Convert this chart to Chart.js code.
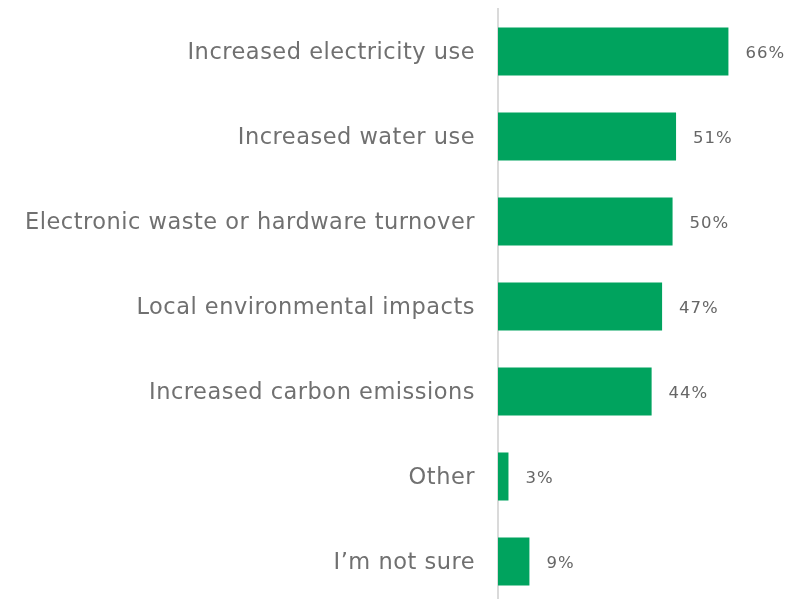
<!DOCTYPE html>
<html>
<head>
<meta charset="utf-8">
<script src="https://cdn.jsdelivr.net/npm/chart.js@4/dist/chart.umd.min.js"></script>
<style>
  html, body { margin: 0; padding: 0; background: #fff; overflow: hidden; }
  .chart-container { position: relative; width: 800px; height: 604px; }
</style>
</head>
<body>
<div class="chart-container"><canvas id="barChart"></canvas></div>
<script>
// Chart data
const categories = [
    'Increased electricity use',
    'Increased water use',
    'Electronic waste or hardware turnover',
    'Local environmental impacts',
    'Increased carbon emissions',
    'Other',
    'I\u2019m not sure'
];
const values = [66, 51, 50, 47, 44, 3, 9];

// Wider tracking to get closer to the original geometric font
const tracking = {
    id: 'tracking',
    beforeDraw(chart) { chart.ctx.letterSpacing = '0.5px'; }
};

// Draw the percentage next to each bar
const valueLabels = {
    id: 'valueLabels',
    afterDatasetsDraw(chart) {
        const ctx = chart.ctx;
        const meta = chart.getDatasetMeta(0);
        ctx.save();
        ctx.letterSpacing = '1px';
        ctx.font = '16.5px "DejaVu Sans"';
        ctx.fillStyle = '#666666';
        ctx.textAlign = 'left';
        ctx.textBaseline = 'middle';
        meta.data.forEach((bar, i) => {
            ctx.fillText(values[i] + '%', bar.x + 17, bar.y + 2);
        });
        ctx.restore();
    }
};

const ctx = document.getElementById('barChart').getContext('2d');
new Chart(ctx, {
    type: 'bar',
    data: {
        labels: categories,
        datasets: [{
            data: values,
            backgroundColor: '#00a35e',
            borderWidth: 0,
            barPercentage: 1,
            categoryPercentage: 0.565
        }]
    },
    options: {
        indexAxis: 'y',
        responsive: true,
        maintainAspectRatio: false,
        animation: false,
        layout: { padding: { top: 9, right: 0, bottom: 0, left: 0 } },
        plugins: {
            legend: { display: false },
            tooltip: { enabled: false }
        },
        scales: {
            x: {
                display: false,
                min: 0,
                max: 86.5
            },
            y: {
                afterFit(scale) {
                    scale.width = 498;
                    scale.paddingTop = 0;
                    scale.paddingBottom = 0;
                },
                grid: { display: false, drawTicks: false },
                border: { display: true, color: '#dadada', width: 2 },
                ticks: {
                    padding: 23,
                    labelOffset: 1.5,
                    color: '#707070',
                    font: { family: '"DejaVu Sans"', size: 22.5 }
                }
            }
        }
    },
    plugins: [tracking, valueLabels]
});
</script>
</body>
</html>
